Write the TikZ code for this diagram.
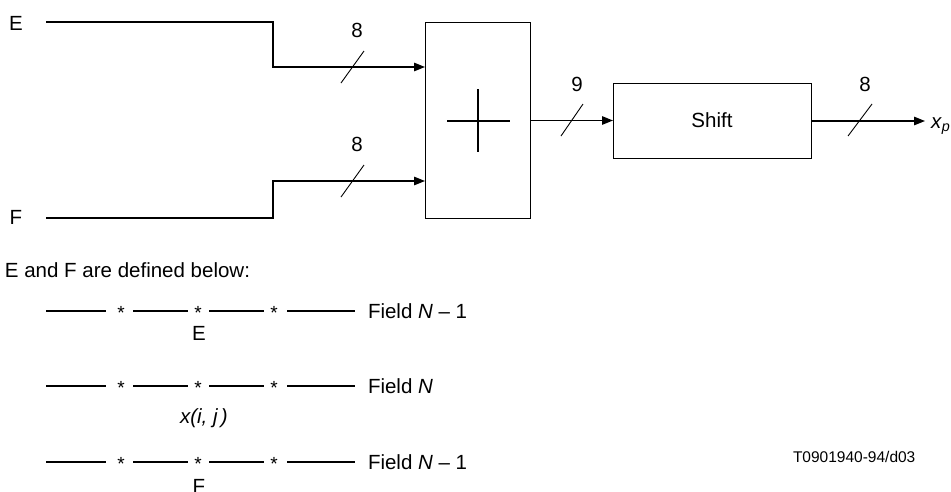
\documentclass[tikz,border=0pt]{standalone}
\usepackage{fontspec}
\setmainfont{Liberation Sans}
\usetikzlibrary{arrows.meta}
\begin{document}
\begin{tikzpicture}[x=1pt,y=-1pt,
  every node/.style={inner sep=0pt,outer sep=0pt,font=\fontsize{20.5}{24}\selectfont},
  sig/.style={line width=1.3pt},
  arr/.style={sig,-{Triangle[length=11pt,width=8.5pt]}},
  blk/.style={draw,line width=1pt,rectangle},
  bus/.style={line width=0.9pt},
  lbl/.style={anchor=center},
  star/.style={anchor=base,font=\fontsize{19}{20}\selectfont},
  seg/.style={line width=1.3pt},
  small/.style={font=\fontsize{15.5}{18}\selectfont}]
\useasboundingbox (0,0) rectangle (951,491);
% blocks
\node[blk,minimum width=105pt,minimum height=196pt] (add) at (477.5,120) {};
\node[blk,minimum width=198pt,minimum height=75pt] (shift) at (712,120.5) {Shift};
\draw[line width=1.8pt] (447,121) -- (510,121);
\draw[line width=1.8pt] (478,89) -- (478,152);
% inputs
\node[lbl] (E) at (16,23) {E};
\node[lbl] (F) at (16,217) {F};
\coordinate (eS) at (46,22);
\coordinate (eK) at (273,67);
\coordinate (fS) at (46,218);
\coordinate (fK) at (273,181);
\draw[arr] (eS) -| (eK) -- (eK -| add.west);
\draw[arr] (fS) -| (fK) -- (fK -| add.west);
\draw[bus] (341,83) -- (364,51);
\draw[bus] (341,197) -- (364,165);
\node[lbl] (n8a) at (357,30) {8};
\node[lbl] (n8b) at (357,144) {8};
% adder to shift
\draw[arr] (add.east |- shift.west) -- (shift.west);
\draw[bus] (561,136) -- (583,104);
\node[lbl] (n9) at (577,84) {9};
% output
\coordinate (xo) at (925,121);
\draw[arr] (shift.east |- xo) -- (xo);
\draw[bus] (848,136) -- (872,104);
\node[lbl] (n8c) at (865,84) {8};
\node[anchor=base west] (xp) at (931,128) {\textit{x}\textsubscript{\textit{p}}};
% text
\node[anchor=base west] (def) at (5,277) {E and F are defined below:};
% rows
\foreach \r/\yy in {r1/311,r2/386,r3/462}{
  \draw[seg] (46,\yy) -- (106,\yy);
  \draw[seg] (133,\yy) -- (188,\yy);
  \draw[seg] (209,\yy) -- (264,\yy);
  \draw[seg] (287,\yy) -- (355,\yy);
  \node[star] (\r s1) at (121,\yy+8) {*};
  \node[star] (\r s2) at (198,\yy+8) {*};
  \node[star] (\r s3) at (274,\yy+8) {*};
}
\node[anchor=base west] (f1) at (368,318) {Field \textit{N} – 1};
\node[anchor=base west] (f2) at (368,393) {Field \textit{N}};
\node[anchor=base west] (f3) at (368,469) {Field \textit{N} – 1};
\node[anchor=base] (eE) at (199,340) {E};
\node[anchor=base west] (xij) at (180,423) {\textit{x(i, j\,)}};
\node[anchor=base] (fF) at (199,493) {F};
\node[anchor=base west,small] (tag) at (793,462) {T0901940-94/d03};
\end{tikzpicture}
\end{document}
